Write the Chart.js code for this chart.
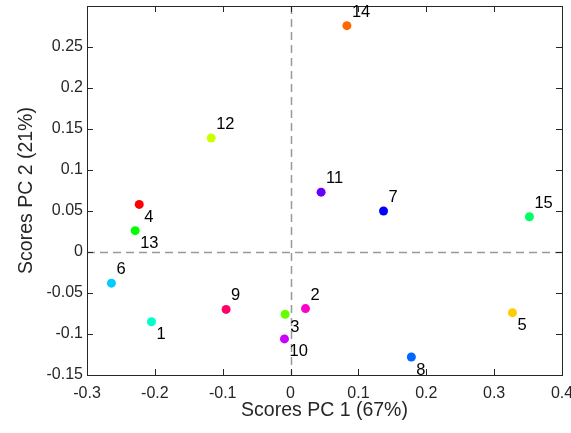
<!DOCTYPE html>
<html>
<head>
<meta charset="utf-8">
<script src="https://cdn.jsdelivr.net/npm/chart.js@4/dist/chart.umd.min.js"></script>
<style>
  html, body { margin: 0; padding: 0; background: #fff; }
  #wrap { width: 571px; height: 433px; }
</style>
</head>
<body>
<div id="wrap"><canvas id="chart"></canvas></div>
<script>
// sample numbers and their PCA scores
const sampleLabels = ['1', '2', '3', '4', '5', '6', '7', '8', '9', '10', '11', '12', '13', '14', '15'];
const pc1Scores = [-0.205, 0.022, -0.008, -0.223, 0.327, -0.264, 0.137, 0.178, -0.095, -0.009, 0.045, -0.117, -0.229, 0.083, 0.352];
const pc2Scores = [-0.085, -0.069, -0.076, 0.058, -0.074, -0.038, 0.050, -0.128, -0.070, -0.106, 0.073, 0.139, 0.026, 0.276, 0.043];
// hsv colormap, one colour per sample
const pointColors = ['#00FFCC', '#FF00CC', '#66FF00', '#FF0000', '#FFCC00', '#00CCFF', '#0000FF', '#0066FF',
                     '#FF0066', '#CC00FF', '#6600FF', '#CCFF00', '#00FF00', '#FF6600', '#00FF66'];
// samples whose number sits under the dot
const labelsBelow = ['1', '3', '4', '5', '8', '10', '13'];

const xTicks = [-0.3, -0.2, -0.1, 0, 0.1, 0.2, 0.3, 0.4];
const yTicks = [-0.15, -0.1, -0.05, 0, 0.05, 0.1, 0.15, 0.2, 0.25];
const xLimits = [-0.3, 0.4];
const yLimits = [-0.15, 0.3];

const axisColor = '#262626';
const fontFamily = '"Liberation Sans", Arial, Helvetica, sans-serif';

const points = pc1Scores.map((x, i) => ({ x: x, y: pc2Scores[i] }));

// dashed zero lines, box frame, inward ticks and the sample numbers
const pcaDecor = {
  id: 'pcaDecor',
  beforeDatasetsDraw(chart) {
    const { ctx, chartArea: a, scales: { x, y } } = chart;
    ctx.save();
    ctx.strokeStyle = '#999999';
    ctx.lineWidth = 1.5;
    ctx.setLineDash([8, 5]);
    const x0 = Math.round(x.getPixelForValue(0)) + 0.5;
    const y0 = Math.round(y.getPixelForValue(0)) + 0.5;
    ctx.beginPath();
    ctx.moveTo(x0, a.top);
    ctx.lineTo(x0, a.bottom);
    ctx.moveTo(a.left, y0);
    ctx.lineTo(a.right, y0);
    ctx.stroke();
    ctx.restore();
  },
  afterDatasetsDraw(chart) {
    const { ctx, chartArea: a, scales: { x, y } } = chart;
    ctx.save();
    ctx.strokeStyle = axisColor;
    ctx.lineWidth = 1;
    const tl = 6;
    ctx.beginPath();
    xTicks.forEach(v => {
      const px = Math.round(x.getPixelForValue(v)) + 0.5;
      ctx.moveTo(px, a.bottom);
      ctx.lineTo(px, a.bottom - tl);
      ctx.moveTo(px, a.top);
      ctx.lineTo(px, a.top + tl);
    });
    yTicks.forEach(v => {
      const py = Math.round(y.getPixelForValue(v)) + 0.5;
      ctx.moveTo(a.left, py);
      ctx.lineTo(a.left + tl, py);
      ctx.moveTo(a.right, py);
      ctx.lineTo(a.right - tl, py);
    });
    ctx.stroke();
    ctx.strokeRect(Math.round(a.left) + 0.5, Math.round(a.top) + 0.5,
                   Math.round(a.right - a.left), Math.round(a.bottom - a.top));

    // sample numbers
    const meta = chart.getDatasetMeta(0);
    ctx.fillStyle = '#000';
    ctx.font = '16.5px ' + fontFamily;
    ctx.textAlign = 'left';
    ctx.textBaseline = 'middle';
    meta.data.forEach((pt, i) => {
      const below = labelsBelow.includes(sampleLabels[i]);
      ctx.fillText(sampleLabels[i], pt.x + 5, pt.y + (below ? 13 : -13.5));
    });
    ctx.restore();
  }
};

new Chart(document.getElementById('chart'), {
  type: 'scatter',
  data: {
    datasets: [{
      data: points,
      pointBackgroundColor: pointColors,
      pointBorderColor: pointColors,
      pointRadius: 4.5,
      pointHoverRadius: 4.5,
      borderWidth: 0
    }]
  },
  options: {
    responsive: true,
    maintainAspectRatio: false,
    animation: false,
    layout: { padding: { left: 0, top: 6, right: 9, bottom: 0 } },
    plugins: { legend: { display: false }, tooltip: { enabled: false } },
    scales: {
      x: {
        type: 'linear',
        min: xLimits[0],
        max: xLimits[1],
        grid: { display: false, drawTicks: false, tickLength: 0 },
        border: { display: false },
        afterBuildTicks(scale) { scale.ticks = xTicks.map(v => ({ value: v })); },
        afterFit(scale) { scale.height = 58; scale.paddingLeft = 0; scale.paddingRight = 0; },
        ticks: {
          color: axisColor,
          padding: 9,
          maxRotation: 0,
          autoSkip: false,
          font: { family: fontFamily, size: 16 },
          callback: v => String(v)
        },
        title: {
          display: true,
          text: 'Scores PC 1 (67%)',
          color: axisColor,
          font: { family: fontFamily, size: 19.5 },
          padding: { top: 0, bottom: 11 }
        }
      },
      y: {
        type: 'linear',
        min: yLimits[0],
        max: yLimits[1],
        grid: { display: false, drawTicks: false, tickLength: 0 },
        border: { display: false },
        afterBuildTicks(scale) { scale.ticks = yTicks.map(v => ({ value: v })); },
        afterFit(scale) { scale.width = 87; scale.paddingTop = 0; scale.paddingBottom = 0; },
        ticks: {
          color: axisColor,
          padding: 4,
          autoSkip: false,
          font: { family: fontFamily, size: 16 },
          callback: v => String(v)
        },
        title: {
          display: true,
          text: 'Scores PC 2 (21%)',
          color: axisColor,
          font: { family: fontFamily, size: 19.5 },
          padding: { top: 15, bottom: 0 }
        }
      }
    }
  },
  plugins: [pcaDecor]
});
</script>
</body>
</html>
